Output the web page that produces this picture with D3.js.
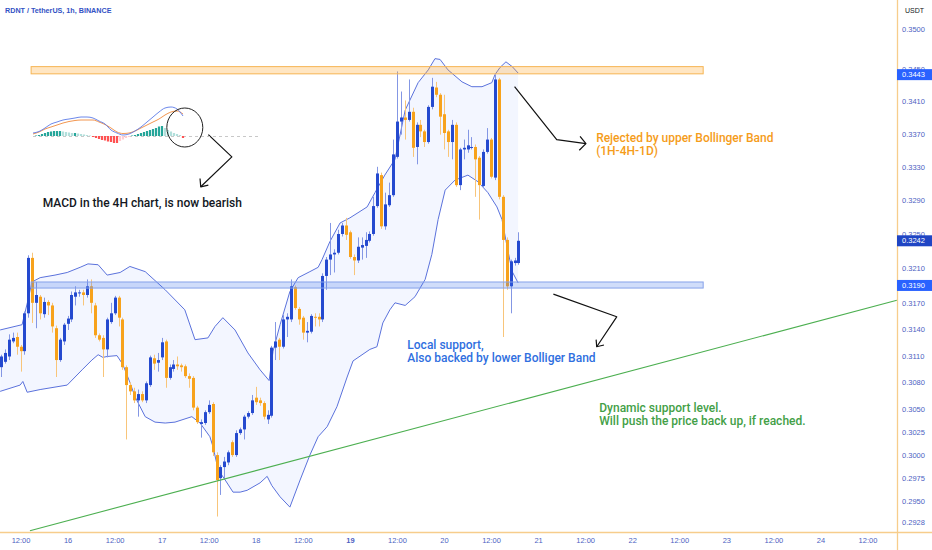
<!DOCTYPE html>
<html>
<head>
<meta charset="utf-8">
<script src="https://d3js.org/d3.v7.min.js"></script>
<style>
  body { margin: 0; background: #fff; }
  svg text { font-family: "Liberation Sans", Arial, sans-serif; }
  .axis text { fill: #4d5fc2; font-size: 7.5px; }
  .note { font-family: Roboto, Inter, sans-serif; font-size: 12px; font-weight: 500; }
</style>
</head>
<body>
<svg id="chart" width="932" height="550"></svg>
<script>
// hourly candles [open, high, low, close], first one is 15 Dec 07:00
const firstCandle = new Date(2023, 11, 15, 7);
const ohlc = [
  [0.3097,0.3111,0.3086,0.3109],[0.3103,0.3117,0.3101,0.3113],[0.3109,0.3134,0.3105,0.3128],
  [0.3126,0.3136,0.3124,0.3130],[0.3131,0.3136,0.3111,0.3120],
  [0.3120,0.3122,0.3092,0.3115],[0.3115,0.3160,0.3111,0.3158],[0.3158,0.3225,0.3153,0.3222],
  [0.3222,0.3228,0.3147,0.3170],[0.3170,0.3194,0.3141,0.3179],[0.3177,0.3179,0.3151,0.3158],
  [0.3157,0.3176,0.3153,0.3171],[0.3171,0.3173,0.3156,0.3167],[0.3167,0.3170,0.3136,0.3143],
  [0.3141,0.3144,0.3086,0.3105],
  [0.3105,0.3130,0.3103,0.3128],[0.3126,0.3147,0.3122,0.3145],[0.3146,0.3155,0.3139,0.3152],
  [0.3151,0.3183,0.3148,0.3179],[0.3177,0.3189,0.3167,0.3182],[0.3181,0.3185,0.3177,0.3182],
  [0.3182,0.3185,0.3167,0.3179],[0.3179,0.3197,0.3176,0.3189],[0.3189,0.3197,0.3158,0.3170],
  [0.3167,0.3170,0.3130,0.3133],
  [0.3133,0.3135,0.3126,0.3128],[0.3130,0.3133,0.3086,0.3117],[0.3117,0.3153,0.3108,0.3151],
  [0.3148,0.3170,0.3146,0.3158],[0.3158,0.3178,0.3156,0.3176],[0.3176,0.3178,0.3143,0.3153],
  [0.3151,0.3153,0.3094,0.3097],[0.3097,0.3099,0.3017,0.3077],[0.3077,0.3080,0.3066,0.3070],
  [0.3070,0.3074,0.3057,0.3060],
  [0.3060,0.3072,0.3042,0.3067],[0.3067,0.3070,0.3058,0.3060],[0.3060,0.3081,0.3057,0.3079],
  [0.3077,0.3110,0.3075,0.3108],[0.3107,0.3111,0.3094,0.3101],[0.3102,0.3113,0.3092,0.3105],
  [0.3108,0.3130,0.3105,0.3125],[0.3126,0.3128,0.3074,0.3085],[0.3085,0.3100,0.3083,0.3097],
  [0.3095,0.3105,0.3092,0.3100],
  [0.3100,0.3109,0.3094,0.3098],[0.3099,0.3101,0.3092,0.3097],[0.3098,0.3100,0.3085,0.3087],
  [0.3087,0.3090,0.3074,0.3084],[0.3085,0.3087,0.3049,0.3052],[0.3052,0.3054,0.3034,0.3036],
  [0.3034,0.3039,0.3019,0.3036],[0.3035,0.3049,0.3033,0.3047],[0.3047,0.3060,0.3045,0.3055],
  [0.3056,0.3058,0.2999,0.3003],
  [0.3000,0.3003,0.2934,0.2973],[0.2975,0.2989,0.2957,0.2987],[0.2987,0.2998,0.2973,0.2993],
  [0.2992,0.3005,0.2989,0.3003],[0.3014,0.3016,0.2998,0.3000],[0.3000,0.3027,0.2998,0.3024],
  [0.3024,0.3030,0.3022,0.3028],[0.3028,0.3044,0.3017,0.3042],[0.3042,0.3048,0.3040,0.3046],
  [0.3046,0.3066,0.3044,0.3060],
  [0.3063,0.3075,0.3055,0.3058],[0.3060,0.3063,0.3054,0.3057],[0.3057,0.3059,0.3039,0.3042],
  [0.3039,0.3049,0.3034,0.3044],[0.3043,0.3121,0.3041,0.3119],[0.3119,0.3148,0.3105,0.3126],
  [0.3128,0.3130,0.3105,0.3120],[0.3120,0.3156,0.3118,0.3151],[0.3151,0.3158,0.3131,0.3154],
  [0.3151,0.3197,0.3148,0.3189],
  [0.3188,0.3190,0.3162,0.3164],[0.3163,0.3165,0.3145,0.3151],[0.3153,0.3155,0.3128,0.3136],
  [0.3136,0.3148,0.3125,0.3138],[0.3137,0.3157,0.3135,0.3155],[0.3154,0.3158,0.3143,0.3153],
  [0.3154,0.3158,0.3143,0.3151],[0.3151,0.3204,0.3148,0.3201],[0.3201,0.3223,0.3185,0.3220],
  [0.3220,0.3263,0.3202,0.3226],
  [0.3226,0.3232,0.3205,0.3228],[0.3228,0.3255,0.3226,0.3250],[0.3250,0.3263,0.3247,0.3260],
  [0.3260,0.3269,0.3243,0.3249],[0.3252,0.3254,0.3221,0.3223],[0.3223,0.3226,0.3202,0.3219],
  [0.3219,0.3246,0.3216,0.3235],[0.3234,0.3246,0.3220,0.3237],[0.3236,0.3252,0.3222,0.3243],
  [0.3242,0.3253,0.3240,0.3250],
  [0.3250,0.3294,0.3248,0.3283],[0.3283,0.3330,0.3281,0.3322],[0.3320,0.3323,0.3256,0.3259],
  [0.3259,0.3299,0.3255,0.3285],[0.3284,0.3311,0.3282,0.3296],[0.3296,0.3363,0.3294,0.3345],
  [0.3342,0.3447,0.3340,0.3385],[0.3385,0.3422,0.3369,0.3390],[0.3390,0.3411,0.3363,0.3387],
  [0.3387,0.3437,0.3385,0.3397],
  [0.3397,0.3402,0.3342,0.3353],[0.3354,0.3384,0.3333,0.3381],[0.3381,0.3387,0.3366,0.3373],
  [0.3373,0.3375,0.3354,0.3360],[0.3360,0.3405,0.3358,0.3403],[0.3403,0.3439,0.3400,0.3428],
  [0.3427,0.3434,0.3415,0.3418],[0.3418,0.3420,0.3369,0.3391],[0.3394,0.3418,0.3351,0.3371],
  [0.3373,0.3375,0.3342,0.3360],
  [0.3360,0.3387,0.3339,0.3381],[0.3381,0.3384,0.3306,0.3308],[0.3308,0.3353,0.3302,0.3351],
  [0.3351,0.3363,0.3339,0.3353],[0.3351,0.3375,0.3347,0.3356],[0.3353,0.3366,0.3351,0.3354],
  [0.3354,0.3357,0.3294,0.3339],[0.3341,0.3343,0.3267,0.3308],[0.3307,0.3351,0.3305,0.3348],
  [0.3348,0.3377,0.3346,0.3363],
  [0.3363,0.3365,0.3316,0.3318],[0.3317,0.3443,0.3314,0.3437],[0.3437,0.3439,0.3291,0.3294],
  [0.3294,0.3296,0.3131,0.3243],[0.3243,0.3246,0.3185,0.3189],[0.3189,0.3220,0.3158,0.3218],
  [0.3216,0.3222,0.3213,0.3219],[0.3216,0.3252,0.3214,0.3242]
];

// bollinger band outline, [hours after 15 Dec 12:00, price]
const hourZero = new Date(2023, 11, 15, 12);
const upperBand = [
  [-5.2,0.3139],[0.4,0.3145],[1.9,0.3173],[2.9,0.3194],[5.0,0.3199],[8.8,0.3202],[11.9,0.3205],
  [15.2,0.3211],[17.2,0.3215],[19.8,0.3214],[22.1,0.3202],[25.4,0.3205],[27.9,0.3212],[31.8,0.3206],
  [36.9,0.3185],[41.9,0.3162],[44.5,0.3128],[47.8,0.3130],[49.6,0.3143],[51.6,0.3153],[54.7,0.3139],
  [58.0,0.3113],[61.1,0.3094],[63.4,0.3082],[64.4,0.3115],[66.2,0.3145],[68.7,0.3183],[70.8,0.3199],
  [73.8,0.3206],[75.9,0.3211],[76.9,0.3220],[78.9,0.3241],[81.5,0.3263],[84.0,0.3269],[88.4,0.3282],
  [90.4,0.3299],[92.9,0.3320],[95.5,0.3339],[98.1,0.3399],[101.4,0.3433],[104.0,0.3449],[105.7,0.3463],
  [107.0,0.3462],[109.0,0.3449],[112.6,0.3434],[115.1,0.3428],[117.7,0.3428],[120.2,0.3433],
  [121.0,0.3443],[122.3,0.3452],[123.8,0.3459],[125.4,0.3453],[126.9,0.3445]
];
const lowerBand = [
  [-5.2,0.3070],[-0.1,0.3077],[0.6,0.3081],[1.7,0.3069],[5.0,0.3072],[11.9,0.3077],[15.7,0.3094],
  [18.2,0.3105],[19.8,0.3111],[21.0,0.3108],[22.1,0.3109],[24.6,0.3110],[26.1,0.3100],[27.9,0.3080],
  [29.2,0.3064],[31.8,0.3042],[34.3,0.3036],[36.9,0.3035],[39.4,0.3036],[43.7,0.3042],[45.8,0.3035],
  [48.3,0.3020],[49.1,0.3009],[50.4,0.2984],[52.2,0.2973],[54.2,0.2960],[56.0,0.2960],[57.8,0.2962],
  [61.1,0.2970],[62.9,0.2977],[64.1,0.2967],[66.2,0.2955],[68.7,0.2944],[71.3,0.2973],[73.8,0.3000],
  [75.9,0.3020],[78.2,0.3031],[80.7,0.3053],[83.3,0.3086],[84.8,0.3104],[89.1,0.3117],[90.9,0.3120],
  [92.4,0.3147],[94.2,0.3162],[95.5,0.3170],[98.1,0.3167],[100.6,0.3177],[103.2,0.3197],[104.9,0.3226],
  [106.5,0.3267],[108.3,0.3302],[110.8,0.3314],[114.1,0.3320],[116.7,0.3312],[119.2,0.3299],
  [121.5,0.3282],[122.8,0.3267],[124.1,0.3235],[125.4,0.3206],[126.9,0.3193]
];

// drawn levels and lines
const zoneHours = [2.7, 174.1];
const resistanceZone = [0.3444, 0.3453];
const supportZone = [0.3187, 0.3194];
const trendLine = [[2.4, 0.2919], [223.5, 0.3173]];
const priceBadges = [0.3443, 0.3242, 0.3190];

// axes
const viewStart = new Date(2023, 11, 15, 6, 46);
const viewEnd = new Date(2023, 11, 24, 19, 32);
const priceLow = 0.29176, priceHigh = 0.35373;
const priceTicks = [0.3500,0.3450,0.3410,0.3370,0.3330,0.3290,0.3250,0.3210,0.3170,0.3140,
                    0.3110,0.3080,0.3050,0.3025,0.3000,0.2975,0.2950,0.2928];
const timeTicks = d3.range(0, 217, 12);  // hours after 15 Dec 12:00

// arrows, [hours, price]
const arrowRejected = [[126.0,0.3428],[136.75,0.3363],[144.2,0.3358]];
const headRejected = [[142.7,0.3367],[144.2,0.3358],[142.5,0.3350]];
const arrowMacd = [[47.9,0.3369],[53.9,0.3342],[45.96,0.3306]];
const headMacd = [[45.78,0.3316],[45.96,0.3306],[47.9,0.3308]];
const arrowSupport = [[135.9,0.3180],[152.05,0.3154],[146.95,0.3120]];
const headSupport = [[146.8,0.3128],[146.95,0.3120],[148.8,0.3122]];

// 4H MACD snapshot
const macdHist = [0,0.5,1,2,3,4,4.5,5,5,5,4.5,4,3.5,3,3,2.5,2,1.5,1,0.5,
                  -1,-2,-3,-4,-4.5,-5.5,-6,-7,-7,-5,-3.5,-2,-1,
                  0.5,1,2,3,4,5,6,7,8,9.5,10,8,6,4.5,3,2,1,-2];
const macdLine = [3,4.5,8,12,14,16,17,18,19,19,18,15,12,6,3,1,2,5,9,14,19,24,28,29,27,20];
const macdSignal = [2,4,7,9,11,13,14.5,15.5,16,16,16,14,11.5,8,4,2.5,3,5,8,11,14,17,21,24,25,22];

const svg = d3.select('#chart');
const plotW = 897, plotH = 532;
const at = h => new Date(+hourZero + h * 36e5);

const x = d3.scaleTime().domain([viewStart, viewEnd]).range([0, plotW]);
const y = d3.scaleLog().domain([priceLow, priceHigh]).range([plotH, 0]);
const step = x(at(1)) - x(at(0));

svg.append('defs').append('clipPath').attr('id', 'plot')
   .append('rect').attr('width', plotW).attr('height', plotH);
const plot = svg.append('g').attr('clip-path', 'url(#plot)');

// band
const bandLine = d3.line().x(d => x(at(d[0]))).y(d => y(d[1]));
plot.append('path')
    .attr('d', bandLine(upperBand.concat(lowerBand.slice().reverse())) + 'Z')
    .attr('fill', '#2962ff').attr('fill-opacity', 0.055);
[upperBand, lowerBand].forEach(b => {
  plot.append('path').attr('d', bandLine(b))
      .attr('fill', 'none').attr('stroke', '#5b72dc').attr('stroke-width', 1);
});

// candles
ohlc.forEach((c, i) => {
  const t = d3.timeHour.offset(firstCandle, i);
  const cx = Math.round(x(t)) + 0.5;
  const up = c[3] >= c[0];
  plot.append('line')
      .attr('x1', cx).attr('x2', cx)
      .attr('y1', y(c[1])).attr('y2', y(c[2]))
      .attr('stroke', up ? '#8497e4' : '#f8c57a').attr('stroke-width', 1);
  const top = y(Math.max(c[0], c[3])), bot = y(Math.min(c[0], c[3]));
  plot.append('rect')
      .attr('x', cx - step * 0.38).attr('width', step * 0.76)
      .attr('y', top).attr('height', Math.max(1, bot - top))
      .attr('fill', up ? '#2449cf' : '#f7a21b');
});

// zones
const zone = (z, fill, stroke) => {
  plot.append('rect')
      .attr('x', x(at(zoneHours[0]))).attr('width', x(at(zoneHours[1])) - x(at(zoneHours[0])))
      .attr('y', y(z[1])).attr('height', y(z[0]) - y(z[1]))
      .attr('fill', fill).attr('stroke', stroke).attr('stroke-width', 1);
};
zone(resistanceZone, 'rgba(255,167,38,0.28)', '#f6b553');
zone(supportZone, 'rgba(66,120,235,0.25)', '#86a2ea');

// trend line
plot.append('path').attr('d', bandLine(trendLine))
    .attr('fill', 'none').attr('stroke', '#4caf50').attr('stroke-width', 1.1);

// arrows
const arrowLine = d3.line().x(d => x(at(d[0]))).y(d => y(d[1]));
[arrowRejected, headRejected, arrowMacd, headMacd, arrowSupport, headSupport].forEach(a => {
  plot.append('path').attr('d', arrowLine(a))
      .attr('fill', 'none').attr('stroke', '#111').attr('stroke-width', 1.2)
      .attr('stroke-linejoin', 'round');
});

// MACD inset
const mx = d3.scaleLinear().domain([0, 50]).range([33, 183]);
const my = d3.scaleLinear().domain([-10, 30]).range([146, 106]);
plot.append('line')
    .attr('x1', mx(0)).attr('x2', mx(75)).attr('y1', my(0) + 0.5).attr('y2', my(0) + 0.5)
    .attr('stroke', '#c8c8c8').attr('stroke-dasharray', '3,3');
macdHist.forEach((v, i) => {
  const prev = i ? macdHist[i - 1] : 0;
  const col = v >= 0 ? (v >= prev ? '#26a69a' : '#b2dfdb') : (v <= prev ? '#ff5252' : '#ffcdd2');
  plot.append('rect')
      .attr('x', mx(i) - 1.1).attr('width', 2.2)
      .attr('y', Math.min(my(0), my(v))).attr('height', Math.abs(my(v) - my(0)))
      .attr('fill', col);
});
const mline = d3.line().x((d, j) => mx(j * 2)).y(d => my(d)).curve(d3.curveMonotoneX);
plot.append('path').attr('d', mline(macdSignal)).attr('fill', 'none')
    .attr('stroke', '#f08a3c').attr('stroke-width', 0.9);
plot.append('path').attr('d', mline(macdLine)).attr('fill', 'none')
    .attr('stroke', '#5b7ae8').attr('stroke-width', 0.9);
plot.append('ellipse')
    .attr('cx', mx(50.6)).attr('cy', my(8.5)).attr('rx', 18).attr('ry', 19.5)
    .attr('fill', 'none').attr('stroke', '#222').attr('stroke-width', 1);

// notes
const note = (h, p, lines, color) => {
  const t = plot.append('text').attr('class', 'note').attr('fill', color)
      .attr('x', x(at(h))).attr('y', y(p));
  lines.forEach((s, k) => t.append('tspan').attr('x', x(at(h))).attr('dy', k ? 13.3 : 0).text(s));
};
note(146.8, 0.3360, ['Rejected by upper Bollinger Band', '(1H-4H-1D)'], '#f59c1a');
note(5.66, 0.3282, ['MACD in the 4H chart, is now bearish'], '#131722');
note(98.65, 0.3118, ['Local support,', 'Also backed by lower Bolliger Band'], '#2f6fe0');
note(147.6, 0.3047, ['Dynamic support level.', 'Will push the price back up, if reached.'], '#43a047');

// scale borders
svg.append('line').attr('x1', plotW + 0.5).attr('x2', plotW + 0.5).attr('y1', 0).attr('y2', 550)
   .attr('stroke', '#f7cd8c').attr('stroke-width', 1.3);
svg.append('line').attr('x1', 0).attr('x2', 932).attr('y1', plotH + 0.5).attr('y2', plotH + 0.5)
   .attr('stroke', '#f7cd8c').attr('stroke-width', 1.3);

// price axis
const yAxis = svg.append('g').attr('class', 'axis').attr('transform', `translate(${plotW},0)`)
   .call(d3.axisRight(y).tickValues(priceTicks).tickFormat(d3.format('.4f')).tickSize(0).tickPadding(5));
yAxis.select('.domain').remove();

// time axis
const xAxis = svg.append('g').attr('class', 'axis').attr('transform', `translate(0,${plotH})`)
   .call(d3.axisBottom(x).tickValues(timeTicks.map(at))
     .tickFormat(d => d.getHours() === 12 ? '12:00' : d.getDate()).tickSize(0).tickPadding(6));
xAxis.select('.domain').remove();
xAxis.selectAll('text').filter(d => d.getDate() === 19 && d.getHours() === 0)
   .attr('font-weight', 'bold').attr('fill', '#2f45b5');

// price badges
priceBadges.forEach((v, i) => {
  const g = svg.append('g').attr('transform', `translate(${plotW},${y(v)})`);
  g.append('rect').attr('x', 0).attr('y', -5.5).attr('width', 35).attr('height', 11)
   .attr('fill', i === 1 ? '#1f45c4' : '#2962ff');
  g.append('text').attr('x', 5).attr('y', 2.7).attr('fill', '#fff')
   .style('font-size', '7.5px').text(d3.format('.4f')(v));
});

svg.append('text').attr('x', 905).attr('y', 13).attr('fill', '#131722')
   .style('font-size', '7px').text('USDT');
svg.append('text').attr('x', 5).attr('y', 13).attr('fill', '#3352c4')
   .style('font-size', '7.2px').style('font-weight', 'bold').text('RDNT / TetherUS, 1h, BINANCE');
</script>
</body>
</html>
